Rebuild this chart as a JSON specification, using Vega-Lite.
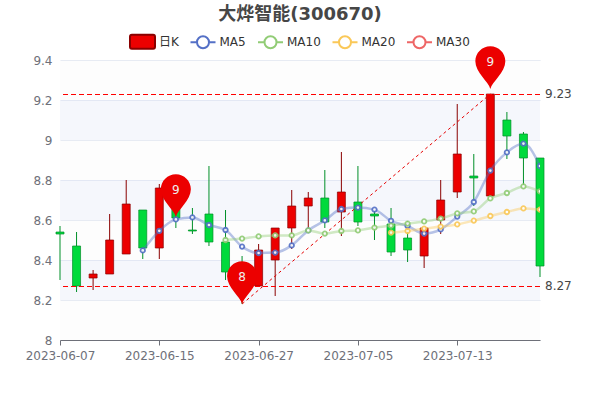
{
"$schema":"https://vega.github.io/schema/vega-lite/v6.json",
"width":480,"height":280,"autosize":"none",
"padding":{"left":60,"top":60,"right":60,"bottom":60},
"background":"#ffffff",
"title":{"text":"大烨智能(300670)","anchor":"middle","fontSize":18,"fontWeight":"bold","color":"#464646","font":"DejaVu Sans, Noto Sans CJK SC","offset":4},
"config":{"view":{"stroke":null},"font":"DejaVu Sans, Noto Sans CJK SC","axis":{"labelOverlap":false,"labelBound":false,"labelFlush":false}},
"datasets":{
"candles":[
{"date":"2023-06-07","open":8.54,"close":8.53,"low":8.30,"high":8.57},
{"date":"2023-06-08","open":8.47,"close":8.27,"low":8.24,"high":8.54},
{"date":"2023-06-09","open":8.31,"close":8.33,"low":8.25,"high":8.35},
{"date":"2023-06-12","open":8.33,"close":8.50,"low":8.33,"high":8.63},
{"date":"2023-06-13","open":8.43,"close":8.68,"low":8.43,"high":8.80},
{"date":"2023-06-14","open":8.65,"close":8.46,"low":8.405,"high":8.65},
{"date":"2023-06-15","open":8.46,"close":8.76,"low":8.405,"high":8.78},
{"date":"2023-06-16","open":8.75,"close":8.61,"low":8.56,"high":8.78},
{"date":"2023-06-19","open":8.55,"close":8.545,"low":8.53,"high":8.66},
{"date":"2023-06-20","open":8.63,"close":8.49,"low":8.47,"high":8.87},
{"date":"2023-06-21","open":8.49,"close":8.34,"low":8.30,"high":8.65},
{"date":"2023-06-26","open":8.34,"close":8.28,"low":8.18,"high":8.42},
{"date":"2023-06-27","open":8.27,"close":8.45,"low":8.27,"high":8.48},
{"date":"2023-06-28","open":8.40,"close":8.56,"low":8.22,"high":8.56},
{"date":"2023-06-29","open":8.56,"close":8.67,"low":8.455,"high":8.75},
{"date":"2023-06-30","open":8.67,"close":8.71,"low":8.56,"high":8.74},
{"date":"2023-07-03","open":8.71,"close":8.59,"low":8.56,"high":8.85},
{"date":"2023-07-04","open":8.64,"close":8.74,"low":8.52,"high":8.94},
{"date":"2023-07-05","open":8.69,"close":8.59,"low":8.57,"high":8.87},
{"date":"2023-07-06","open":8.63,"close":8.62,"low":8.50,"high":8.65},
{"date":"2023-07-07","open":8.58,"close":8.44,"low":8.42,"high":8.66},
{"date":"2023-07-10","open":8.51,"close":8.45,"low":8.39,"high":8.595},
{"date":"2023-07-11","open":8.42,"close":8.56,"low":8.36,"high":8.56},
{"date":"2023-07-12","open":8.60,"close":8.70,"low":8.53,"high":8.80},
{"date":"2023-07-13","open":8.74,"close":8.93,"low":8.71,"high":9.18},
{"date":"2023-07-14","open":8.82,"close":8.81,"low":8.67,"high":8.93},
{"date":"2023-07-17","open":8.72,"close":9.23,"low":8.72,"high":9.23},
{"date":"2023-07-18","open":9.10,"close":9.02,"low":8.905,"high":9.14},
{"date":"2023-07-19","open":9.03,"close":8.91,"low":8.77,"high":9.04},
{"date":"2023-07-20","open":8.91,"close":8.37,"low":8.315,"high":8.91}
],
"ma":[
{"date":"2023-06-14","series":"MA5","value":8.448},
{"date":"2023-06-15","series":"MA5","value":8.546},
{"date":"2023-06-16","series":"MA5","value":8.603},
{"date":"2023-06-19","series":"MA5","value":8.613},
{"date":"2023-06-20","series":"MA5","value":8.575},
{"date":"2023-06-21","series":"MA5","value":8.55},
{"date":"2023-06-26","series":"MA5","value":8.467},
{"date":"2023-06-27","series":"MA5","value":8.435},
{"date":"2023-06-28","series":"MA5","value":8.437},
{"date":"2023-06-29","series":"MA5","value":8.473},
{"date":"2023-06-30","series":"MA5","value":8.548},
{"date":"2023-07-03","series":"MA5","value":8.598},
{"date":"2023-07-04","series":"MA5","value":8.655},
{"date":"2023-07-05","series":"MA5","value":8.662},
{"date":"2023-07-06","series":"MA5","value":8.652},
{"date":"2023-07-07","series":"MA5","value":8.596},
{"date":"2023-07-10","series":"MA5","value":8.57},
{"date":"2023-07-11","series":"MA5","value":8.532},
{"date":"2023-07-12","series":"MA5","value":8.553},
{"date":"2023-07-13","series":"MA5","value":8.617},
{"date":"2023-07-14","series":"MA5","value":8.69},
{"date":"2023-07-17","series":"MA5","value":8.847},
{"date":"2023-07-18","series":"MA5","value":8.938},
{"date":"2023-07-19","series":"MA5","value":8.982},
{"date":"2023-07-20","series":"MA5","value":8.87},
{"date":"2023-06-21","series":"MA10","value":8.50},
{"date":"2023-06-26","series":"MA10","value":8.507},
{"date":"2023-06-27","series":"MA10","value":8.518},
{"date":"2023-06-28","series":"MA10","value":8.523},
{"date":"2023-06-29","series":"MA10","value":8.523},
{"date":"2023-06-30","series":"MA10","value":8.548},
{"date":"2023-07-03","series":"MA10","value":8.532},
{"date":"2023-07-04","series":"MA10","value":8.545},
{"date":"2023-07-05","series":"MA10","value":8.548},
{"date":"2023-07-06","series":"MA10","value":8.562},
{"date":"2023-07-07","series":"MA10","value":8.572},
{"date":"2023-07-10","series":"MA10","value":8.582},
{"date":"2023-07-11","series":"MA10","value":8.593},
{"date":"2023-07-12","series":"MA10","value":8.607},
{"date":"2023-07-13","series":"MA10","value":8.633},
{"date":"2023-07-14","series":"MA10","value":8.643},
{"date":"2023-07-17","series":"MA10","value":8.708},
{"date":"2023-07-18","series":"MA10","value":8.735},
{"date":"2023-07-19","series":"MA10","value":8.768},
{"date":"2023-07-20","series":"MA10","value":8.743},
{"date":"2023-07-07","series":"MA20","value":8.537},
{"date":"2023-07-10","series":"MA20","value":8.545},
{"date":"2023-07-11","series":"MA20","value":8.557},
{"date":"2023-07-12","series":"MA20","value":8.567},
{"date":"2023-07-13","series":"MA20","value":8.578},
{"date":"2023-07-14","series":"MA20","value":8.597},
{"date":"2023-07-17","series":"MA20","value":8.62},
{"date":"2023-07-18","series":"MA20","value":8.64},
{"date":"2023-07-19","series":"MA20","value":8.658},
{"date":"2023-07-20","series":"MA20","value":8.652}
],
"levels":[{"value":9.23},{"value":8.27}],
"diag":[{"date":"2023-06-26","value":8.18},{"date":"2023-07-17","value":9.23}],
"pins":[
{"date":"2023-06-16","value":8.615,"label":"9"},
{"date":"2023-06-26","value":8.18,"label":"8"},
{"date":"2023-07-17","value":9.255,"label":"9"}
],
"shade":[{"y":8.2,"y2":8.4},{"y":8.6,"y2":8.8},{"y":9.0,"y2":9.2}],
"plain":[{"y":8.0,"y2":8.2},{"y":8.4,"y2":8.6},{"y":8.8,"y2":9.0},{"y":9.2,"y2":9.4}],
"legendRows":[{"series":"日K"},{"series":"MA5"},{"series":"MA10"},{"series":"MA20"},{"series":"MA30"}]
},
"layer":[
{"data":{"name":"plain"},"mark":{"type":"rect","fill":"#fafafa","opacity":0.3},
 "encoding":{"y":{"field":"y","type":"quantitative","scale":{"domain":[8,9.4],"nice":false,"zero":false},
   "axis":{"title":null,"tickCount":7,"format":"~g","grid":true,"gridColor":"#e0e6f1","gridWidth":1,"domain":false,"ticks":false,"labelColor":"#6e7079","labelFontSize":12,"labelPadding":8,"labelFont":"DejaVu Sans"}},
  "y2":{"field":"y2"}}},
{"data":{"name":"shade"},"mark":{"type":"rect","fill":"#e6ebf7","opacity":0.42},
 "encoding":{"y":{"field":"y","type":"quantitative"},"y2":{"field":"y2"}}},
{"data":{"name":"candles"},"transform":[{"filter":"datum.close>=datum.open"}],"mark":{"type":"rule","color":"#8a0000","strokeWidth":1},
 "encoding":{"x":{"field":"date","type":"nominal","scale":{"type":"point","padding":0,"domain":["2023-06-07","2023-06-08","2023-06-09","2023-06-12","2023-06-13","2023-06-14","2023-06-15","2023-06-16","2023-06-19","2023-06-20","2023-06-21","2023-06-26","2023-06-27","2023-06-28","2023-06-29","2023-06-30","2023-07-03","2023-07-04","2023-07-05","2023-07-06","2023-07-07","2023-07-10","2023-07-11","2023-07-12","2023-07-13","2023-07-14","2023-07-17","2023-07-18","2023-07-19","2023-07-20"]},
   "axis":{"title":null,"labelExpr":"indexof(['2023-06-07','2023-06-15','2023-06-27','2023-07-05','2023-07-13'],datum.value)>=0?datum.value:''","tickOpacity":{"condition":{"test":"indexof(['2023-06-07','2023-06-15','2023-06-27','2023-07-05','2023-07-13'],datum.value)>=0","value":1},"value":0},"labelAngle":0,"labelColor":"#6e7079","labelFontSize":12,"labelFont":"DejaVu Sans","labelPadding":5,"domainColor":"#6e7079","tickColor":"#6e7079","tickSize":5,"grid":false}},
  "y":{"field":"low","type":"quantitative"},"y2":{"field":"high"}}},
{"data":{"name":"candles"},"transform":[{"filter":"datum.close<datum.open"}],"mark":{"type":"rule","color":"#008f28","strokeWidth":1},
 "encoding":{"x":{"field":"date","type":"nominal"},"y":{"field":"low","type":"quantitative"},"y2":{"field":"high"}}},
{"data":{"name":"candles"},"transform":[{"filter":"datum.close>=datum.open"}],"mark":{"type":"bar","size":8,"fill":"#ec0000","stroke":"#8a0000","strokeWidth":1,"strokeOpacity":0.7},
 "encoding":{"x":{"field":"date","type":"nominal"},"y":{"field":"open","type":"quantitative"},"y2":{"field":"close"}}},
{"data":{"name":"candles"},"transform":[{"filter":"datum.close<datum.open"}],"mark":{"type":"bar","size":8,"fill":"#00da3c","stroke":"#008f28","strokeWidth":1,"strokeOpacity":0.7},
 "encoding":{"x":{"field":"date","type":"nominal"},"y":{"field":"open","type":"quantitative"},"y2":{"field":"close"}}},
{"data":{"name":"levels"},"mark":{"type":"rule","color":"#ff0000","strokeWidth":1,"strokeDash":[5,3],"yOffset":0.5},
 "encoding":{"y":{"field":"value","type":"quantitative"}}},
{"data":{"name":"diag"},"mark":{"type":"line","color":"#e60000","strokeWidth":1,"strokeDash":[3,3]},
 "encoding":{"x":{"field":"date","type":"nominal"},"y":{"field":"value","type":"quantitative"}}},
{"data":{"name":"levels"},"mark":{"type":"text","align":"left","baseline":"middle","dx":5,"fontSize":12,"color":"#464646"},
 "encoding":{"x":{"datum":"2023-07-20","type":"nominal"},"y":{"field":"value","type":"quantitative"},"text":{"field":"value","type":"quantitative","format":".2f"}}},
{"data":{"name":"ma"},"mark":{"type":"line","interpolate":"monotone","strokeWidth":2.5,"opacity":0.42,"clip":true},
 "encoding":{"x":{"field":"date","type":"nominal"},"y":{"field":"value","type":"quantitative"},
  "stroke":{"field":"series","type":"nominal","legend":null,"scale":{"domain":["MA5","MA10","MA20","MA30"],"range":["#5470c6","#91cc75","#fac858","#ee6666"]}}}},
{"data":{"name":"ma"},"mark":{"type":"point","filled":false,"fill":"#ffffff","fillOpacity":1,"size":20,"strokeWidth":1.8,"opacity":0.9,"clip":true},
 "encoding":{"x":{"field":"date","type":"nominal"},"y":{"field":"value","type":"quantitative"},
  "stroke":{"field":"series","type":"nominal","legend":null}}},
{"data":{"name":"pins"},"mark":{"type":"point","filled":true,"fill":"#ec0000","opacity":1,"strokeWidth":0,"size":900,"shape":"M0,0 C-0.12,-0.5 -1,-1.1 -1,-1.85 A1,1 0 1 1 1,-1.85 C1,-1.1 0.12,-0.5 0,0 Z"},
 "encoding":{"x":{"field":"date","type":"nominal"},"y":{"field":"value","type":"quantitative"}}},
{"data":{"name":"pins"},"mark":{"type":"text","color":"#eeeeee","fontSize":12,"baseline":"middle","align":"center","dy":-27},
 "encoding":{"x":{"field":"date","type":"nominal"},"y":{"field":"value","type":"quantitative"},"text":{"field":"label"}}},
{"data":{"name":"legendRows"},"mark":{"type":"point","opacity":0,"size":625},
 "encoding":{"shape":{"field":"series","type":"nominal",
  "scale":{"domain":["日K","MA5","MA10","MA20","MA30"],"range":[
   "M-0.85,-0.56 L0.85,-0.56 Q1,-0.56 1,-0.4 L1,0.4 Q1,0.56 0.85,0.56 L-0.85,0.56 Q-1,0.56 -1,0.4 L-1,-0.4 Q-1,-0.56 -0.85,-0.56 Z",
   "M-1,0 L-0.48,0 M0.48,0 L1,0 M0.48,0 A0.48,0.48 0 1 1 -0.48,0 A0.48,0.48 0 1 1 0.48,0",
   "M-1,0 L-0.48,0 M0.48,0 L1,0 M0.48,0 A0.48,0.48 0 1 1 -0.48,0 A0.48,0.48 0 1 1 0.48,0",
   "M-1,0 L-0.48,0 M0.48,0 L1,0 M0.48,0 A0.48,0.48 0 1 1 -0.48,0 A0.48,0.48 0 1 1 0.48,0",
   "M-1,0 L-0.48,0 M0.48,0 L1,0 M0.48,0 A0.48,0.48 0 1 1 -0.48,0 A0.48,0.48 0 1 1 0.48,0"]},
  "legend":{"title":null,"orient":"none","legendX":69,"legendY":-32,"direction":"horizontal","columns":5,"symbolSize":625,"symbolStrokeWidth":2,"symbolOpacity":1,"labelFontSize":12,"labelColor":"#333333","labelFont":"DejaVu Sans, Noto Sans CJK SC","labelOffset":3,"columnPadding":7.5,
   "encoding":{"symbols":{"opacity":{"value":1},
     "fill":{"value":{"expr":"datum.value==='日K'?'#ec0000':'#ffffff'"}},
     "stroke":{"value":{"expr":"datum.value==='日K'?'#8a0000':datum.value==='MA5'?'#5470c6':datum.value==='MA10'?'#91cc75':datum.value==='MA20'?'#fac858':'#ee6666'"}}}}}}}}
]
}
